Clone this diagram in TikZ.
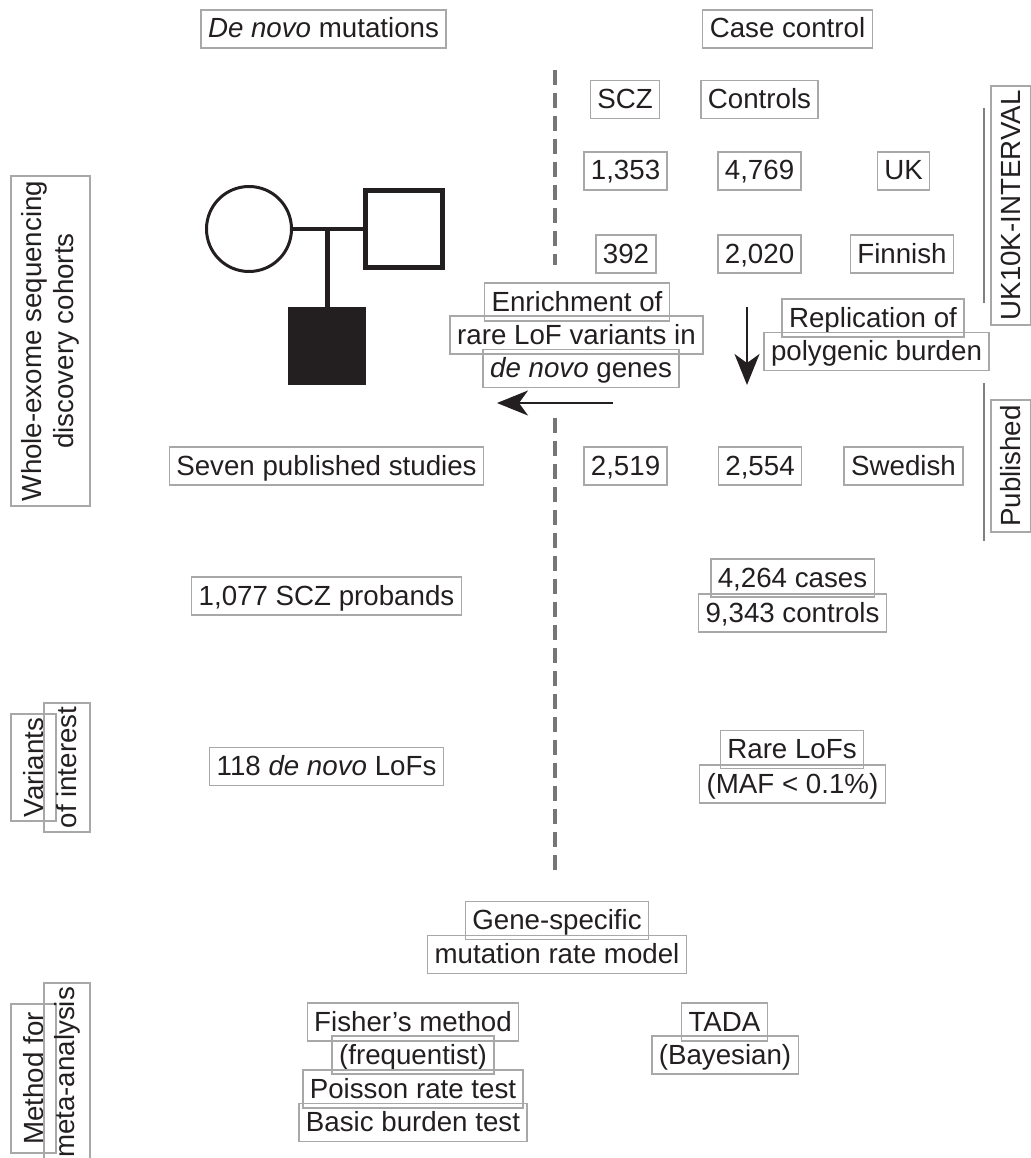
\documentclass[tikz,border=0pt]{standalone}
\usepackage{fontspec}
\setmainfont{Liberation Sans}
\usetikzlibrary{arrows.meta}
\definecolor{boxgray}{RGB}{168,168,168}
\definecolor{ink}{RGB}{35,31,32}
\definecolor{dashgray}{RGB}{118,118,118}
\begin{document}
\begin{tikzpicture}[x=1pt,y=-1pt,
  lbl/.style={draw=boxgray, line width=1.4pt, text=ink, inner xsep=7pt, inner ysep=0pt,
    text height=28pt, text depth=10pt, font=\fontsize{27.7}{32}\selectfont},
  vlbl/.style={draw=boxgray, line width=1.4pt, text=ink, inner sep=0pt, rotate=90,
    align=center, font=\fontsize{27.7}{32}\selectfont},
  pedline/.style={draw=ink, line cap=butt},
  bigarrow/.style={draw=ink, line width=2pt, -{Stealth[length=31pt,width=25pt,inset=9pt]}},
  sepline/.style={draw=dashgray, line width=4pt, dash pattern=on 15pt off 8pt},
  bracket/.style={draw=gray, line width=1.5pt}
]
\useasboundingbox (0,0) rectangle (1030,1158);

% column headers
\node[lbl] (dnm) at (323.5,29) {\textit{De novo} mutations};
\node[lbl] (cc) at (787.5,29) {Case control};

% case-control table
\node[lbl] (scz) at (625,99.5) {SCZ};
\node[lbl] (ctrl) at (759.5,99.5) {Controls};
\node[lbl] (n1353) at (625.5,171) {1,353};
\node[lbl] (n4769) at (759.5,171) {4,769};
\node[lbl] (uk) at (903.5,171) {UK};
\node[lbl] (n392) at (626,254) {392};
\node[lbl] (n2020) at (759.5,254) {2,020};
\node[lbl] (fin) at (902,254) {Finnish};

% enrichment text
\node[lbl] (enr1) at (577,302) {Enrichment of};
\node[lbl] (enr2) at (576.5,335) {rare LoF variants in};
\node[lbl] (enr3) at (581,368.5) {\textit{de novo} genes};

% replication text
\node[lbl] (rep1) at (873,318) {Replication of};
\node[lbl] (rep2) at (876.5,351.5) {polygenic burden};

% right side groups
\node[vlbl, minimum width=239pt, minimum height=40pt] (uk10k) at (1011,205.5) {UK10K-INTERVAL};
\node[vlbl, minimum width=132pt, minimum height=40pt] (pub) at (1011,466) {Published};
\coordinate (b1t) at (984,108); \coordinate (b1b) at (984,303);
\coordinate (b2t) at (984,383); \coordinate (b2b) at (984,541);
\draw[bracket] (b1t) -- (b1b);
\draw[bracket] (b2t) -- (b2b);

% published row
\node[lbl] (sps) at (326.5,466) {Seven published studies};
\node[lbl] (n2519) at (625.5,466) {2,519};
\node[lbl] (n2554) at (760,466) {2,554};
\node[lbl] (swe) at (903.5,466) {Swedish};

% totals
\node[lbl] (prob) at (326.5,596) {1,077 SCZ probands};
\node[lbl] (cases) at (792.5,578) {4,264 cases};
\node[lbl] (ctrls) at (792.5,613) {9,343 controls};

% variants
\node[lbl] (lofs) at (326.5,766.5) {118 \textit{de novo} LoFs};
\node[lbl] (rare) at (792,749.5) {Rare LoFs};
\node[lbl] (maf) at (792.5,784) {(MAF < 0.1\%)};

% methods
\node[lbl] (gs1) at (557,920.5) {Gene-specific};
\node[lbl] (gs2) at (557,954.5) {mutation rate model};
\node[lbl] (fm1) at (413,1022) {Fisher’s method};
\node[lbl] (fm2) at (413,1055) {(frequentist)};
\node[lbl] (prt) at (413,1089) {Poisson rate test};
\node[lbl] (bbt) at (413,1122.5) {Basic burden test};
\node[lbl] (tada) at (724.5,1022) {TADA};
\node[lbl] (bay) at (725,1055) {(Bayesian)};

% left row labels
\node[vlbl, minimum width=330pt, minimum height=79pt] (wes) at (50.5,341) {Whole-exome sequencing\\discovery cohorts};
\node[vlbl, minimum width=107pt, minimum height=45pt] (var) at (33.5,767.5) {Variants};
\node[vlbl, minimum width=129pt, minimum height=46pt] (oi) at (67,767.5) {of interest};
\node[vlbl, minimum width=149pt, minimum height=45pt] (mf) at (33.5,1078.5) {Method for};
\node[vlbl, minimum width=179pt, minimum height=46pt] (ma) at (67,1072.5) {meta-analysis};

% pedigree
\node[circle, draw=ink, line width=3pt, minimum size=85pt, inner sep=0pt] (mother) at (249,229) {};
\node[rectangle, draw=ink, line width=5pt, minimum size=77pt, inner sep=0pt] (father) at (404,229) {};
\node[rectangle, fill=ink, minimum size=78pt, inner sep=0pt] (child) at (327,346) {};
\coordinate (sib) at (327,229);
\draw[pedline, line width=4pt] (mother.east) -- (father.west);
\draw[pedline, line width=5pt] (sib) -- (child.north);

% dashed separator
\coordinate (d1) at (555,70); \coordinate (d2) at (555,265);
\coordinate (d3) at (555,418); \coordinate (d4) at (555,873);
\draw[sepline] (d1) -- (d2);
\draw[sepline] (d3) -- (d4);

% arrows
\coordinate (la1) at (613,403); \coordinate (la2) at (497,403);
\draw[bigarrow] (la1) -- (la2);
\coordinate (da1) at (747,307); \coordinate (da2) at (747,385);
\draw[bigarrow] (da1) -- (da2);
\end{tikzpicture}
\end{document}
